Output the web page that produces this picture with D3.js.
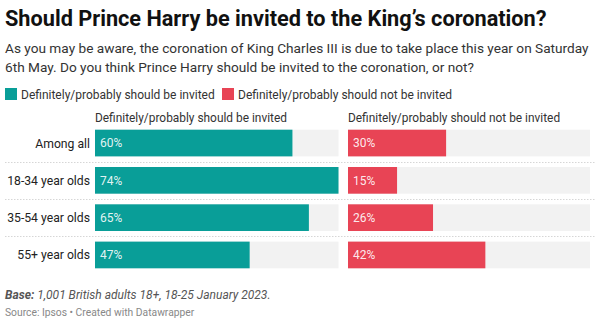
<!DOCTYPE html>
<html><head><meta charset="utf-8">
<script src="https://cdn.jsdelivr.net/npm/d3@7"></script>
<style>
body{margin:0;background:#fff;font-family:Roboto,sans-serif;}
svg{display:block}
</style></head><body>
<svg id="c" width="600" height="326"></svg>
<script>
const categories = ["Among all","18-34 year olds","35-54 year olds","55+ year olds"];
const invited = [60,74,65,47];
const notInvited = [30,15,26,42];
const seriesNames = ["Definitely/probably should be invited","Definitely/probably should not be invited"];
const colors = ["#099e98","#e84455"];

const svg = d3.select("#c");

svg.append("text").attr("x",5).attr("y",25.5).attr("font-size",21.7).attr("font-weight",700).attr("fill","#111")
  .text("Should Prince Harry be invited to the King’s coronation?");
const sub = ["As you may be aware, the coronation of King Charles III is due to take place this year on Saturday",
  "6th May. Do you think Prince Harry should be invited to the coronation, or not?"];
sub.forEach((t,i)=>svg.append("text").attr("x",5).attr("y",53+i*18.5).attr("font-size",13.65).attr("fill","#333").text(t));

// legend
const lg = svg.append("g");
const lx = [5,222];
seriesNames.forEach((n,i)=>{
  lg.append("rect").attr("x",lx[i]).attr("y",88).attr("width",12).attr("height",12).attr("fill",colors[i]);
  lg.append("text").attr("x",lx[i]+16).attr("y",98.5).attr("font-size",12).attr("fill","#333").text(n);
});

const y = d3.scaleBand().domain(categories).range([129.7,268.3]).paddingInner(0.285).paddingOuter(0);
const maxV = d3.max(invited.concat(notInvited));
const panels = [{x0:95,x1:338.5,data:invited,c:colors[0],name:seriesNames[0]},
                {x0:348,x1:590,data:notInvited,c:colors[1],name:seriesNames[1]}];

// separators
categories.slice(1).forEach(c=>{
  const yy = Math.round(y(c) - (y.step()-y.bandwidth())/2)+0.5;
  svg.append("line").attr("x1",5).attr("x2",595).attr("y1",yy).attr("y2",yy)
    .attr("stroke","#d6d6d6").attr("stroke-width",1).attr("stroke-dasharray","1.5,1.5");
});

panels.forEach(p=>{
  const x = d3.scaleLinear().domain([0,maxV]).range([p.x0,p.x1]);
  const g = svg.append("g");
  g.append("text").attr("x",p.x0).attr("y",122).attr("font-size",11.9).attr("fill","#333").text(p.name);
  g.selectAll(".bg").data(categories).join("rect")
    .attr("x",x(0)).attr("y",d=>y(d)).attr("width",x(maxV)-x(0)).attr("height",y.bandwidth()).attr("fill","#f2f2f2");
  g.selectAll(".bar").data(p.data).join("rect")
    .attr("x",x(0)).attr("y",(d,i)=>y(categories[i])).attr("width",d=>x(d)-x(0)).attr("height",y.bandwidth()).attr("fill",p.c);
  g.selectAll(".lab").data(p.data).join("text")
    .attr("x",x(0)+5).attr("y",(d,i)=>y(categories[i])+y.bandwidth()/2+4.3)
    .attr("font-size",12).attr("fill","#fff").attr("fill-opacity",0.9).text(d=>d+"%");
});

svg.selectAll(".cat").data(categories).join("text")
  .attr("x",90).attr("y",d=>y(d)+y.bandwidth()/2+4.5).attr("text-anchor","end")
  .attr("font-size",12.2).attr("fill","#222").text(d=>d);

const f = svg.append("text").attr("x",5).attr("y",298.5).attr("font-size",12).attr("font-style","italic").attr("fill","#555");
f.append("tspan").attr("font-weight",700).text("Base:");
f.append("tspan").text(" 1,001 British adults 18+, 18-25 January 2023.");
svg.append("text").attr("x",5).attr("y",316).attr("font-size",10.3).attr("fill","#888").text("Source: Ipsos • Created with Datawrapper");
</script></body></html>
